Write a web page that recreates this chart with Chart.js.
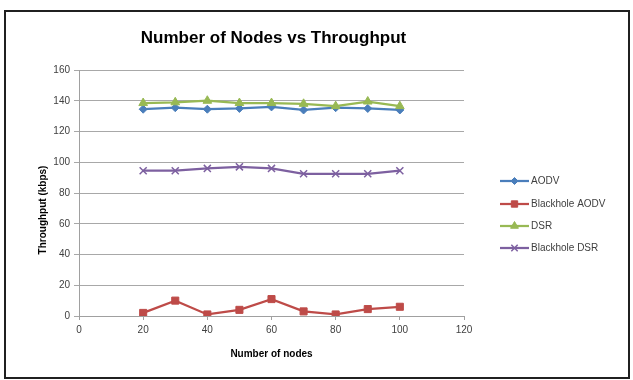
<!DOCTYPE html>
<html><head><meta charset="utf-8">
<script src="https://cdn.jsdelivr.net/npm/chart.js@4/dist/chart.umd.min.js"></script>
<style>html,body{margin:0;padding:0;background:#fff;}#wrap{width:633px;height:380px;position:relative;}</style>
</head><body><div id="wrap"><canvas id="c" width="633" height="380"></canvas></div>
<script>
const nodes = [20, 30, 40, 50, 60, 70, 80, 90, 100];
const aodv = [134.5, 135.5, 134.5, 135, 136, 134, 135.5, 135, 134];
const blackholeAodv = [2, 10, 1, 4, 11, 3, 1, 4.5, 6];
const dsr = [138.5, 139, 140, 138.5, 138.5, 138, 136.5, 139.5, 136.5];
const blackholeDsr = [94.5, 94.5, 96, 97, 96, 92.5, 92.5, 92.5, 94.5];
const seriesNames = ['AODV', 'Blackhole AODV', 'DSR', 'Blackhole DSR'];
const chartTitle = 'Number of Nodes vs Throughput';
const xTitle = 'Number of nodes';
const yTitle = 'Throughput (kbps)';

const colors = ['#4A7EBB', '#BE4B48', '#98B954', '#7D60A0'];
const styles = ['rectRot', 'rect', 'triangle', 'crossRot'];
const radii = [4, 5, 5, 5];
const values = [aodv, blackholeAodv, dsr, blackholeDsr];

const FONT = '"Liberation Sans", Arial, sans-serif';

const datasets = values.map((v, i) => ({
  label: seriesNames[i],
  data: nodes.map((n, j) => ({x: n, y: v[j]})),
  borderColor: colors[i],
  backgroundColor: colors[i],
  borderWidth: 2.25,
  pointStyle: styles[i],
  pointRadius: radii[i],
  pointBorderWidth: i === 3 ? 1.5 : 1,
  pointBorderColor: colors[i],
  pointBackgroundColor: colors[i],
  order: 4 - i,
  tension: 0
}));

const decor = {
  id: 'decor',
  beforeDraw(chart) {
    const ctx = chart.ctx;
    ctx.save();
    ctx.fillStyle = '#fff';
    ctx.fillRect(0, 0, 633, 380);
    ctx.strokeStyle = '#202020';
    ctx.lineWidth = 2;
    ctx.strokeRect(5, 11, 624, 367);
    ctx.restore();
  },
  afterDraw(chart) {
    const ctx = chart.ctx;
    const ca = chart.chartArea;
    ctx.save();
    ctx.fillStyle = '#000';
    ctx.font = 'bold 17px ' + FONT;
    ctx.textAlign = 'center';
    ctx.textBaseline = 'middle';
    ctx.fillText(chartTitle, (ca.left + ca.right) / 2 + 2, 38);
    ctx.font = 'bold 10px ' + FONT;
    ctx.save();
    ctx.translate(43, 210);
    ctx.rotate(-Math.PI / 2);
    ctx.fillText(yTitle, 0, 0);
    ctx.restore();
    ctx.fillText(xTitle, (ca.left + ca.right) / 2, 354);
    const ys = [181, 204, 226, 248];
    ctx.font = '10px ' + FONT;
    ctx.textAlign = 'left';
    for (let i = 0; i < 4; i++) {
      const y = ys[i];
      ctx.strokeStyle = colors[i];
      ctx.lineWidth = 2.25;
      ctx.beginPath();
      ctx.moveTo(500, y);
      ctx.lineTo(529, y);
      ctx.stroke();
      if (Chart.helpers && Chart.helpers.drawPoint) {
        ctx.fillStyle = colors[i];
        ctx.strokeStyle = colors[i];
        ctx.lineWidth = i === 3 ? 1.5 : 1;
        Chart.helpers.drawPoint(ctx, {pointStyle: styles[i], radius: radii[i] - 0.5, rotation: 0, borderWidth: 1}, 514.5, y);
      }
      ctx.fillStyle = '#404040';
      ctx.fillText(seriesNames[i], 531, y + 0.5);
    }
    ctx.restore();
  }
};

new Chart(document.getElementById('c'), {
  type: 'line',
  data: {datasets},
  options: {
    responsive: false,
    animation: false,
    devicePixelRatio: 1,
    layout: {padding: {left: 0, top: 70, right: 169, bottom: 0}},
    plugins: {legend: {display: false}, title: {display: false}, tooltip: {enabled: false}},
    scales: {
      x: {
        type: 'linear', min: 0, max: 120,
        ticks: {stepSize: 20, color: '#404040', font: {family: FONT, size: 10}, padding: 4},
        grid: {drawOnChartArea: false, drawTicks: true, tickLength: 4, color: '#A0A0A0'},
        border: {color: '#A0A0A0', width: 1},
        afterFit(s) { s.height = 64; }
      },
      y: {
        min: 0, max: 160,
        ticks: {stepSize: 20, color: '#404040', font: {family: FONT, size: 10}, padding: 4},
        grid: {color: '#A8A8A8', lineWidth: 1, drawTicks: true, tickLength: 5},
        border: {color: '#A0A0A0', width: 1},
        afterFit(s) { s.width = 79; }
      }
    }
  },
  plugins: [decor]
});
</script>
</body></html>
